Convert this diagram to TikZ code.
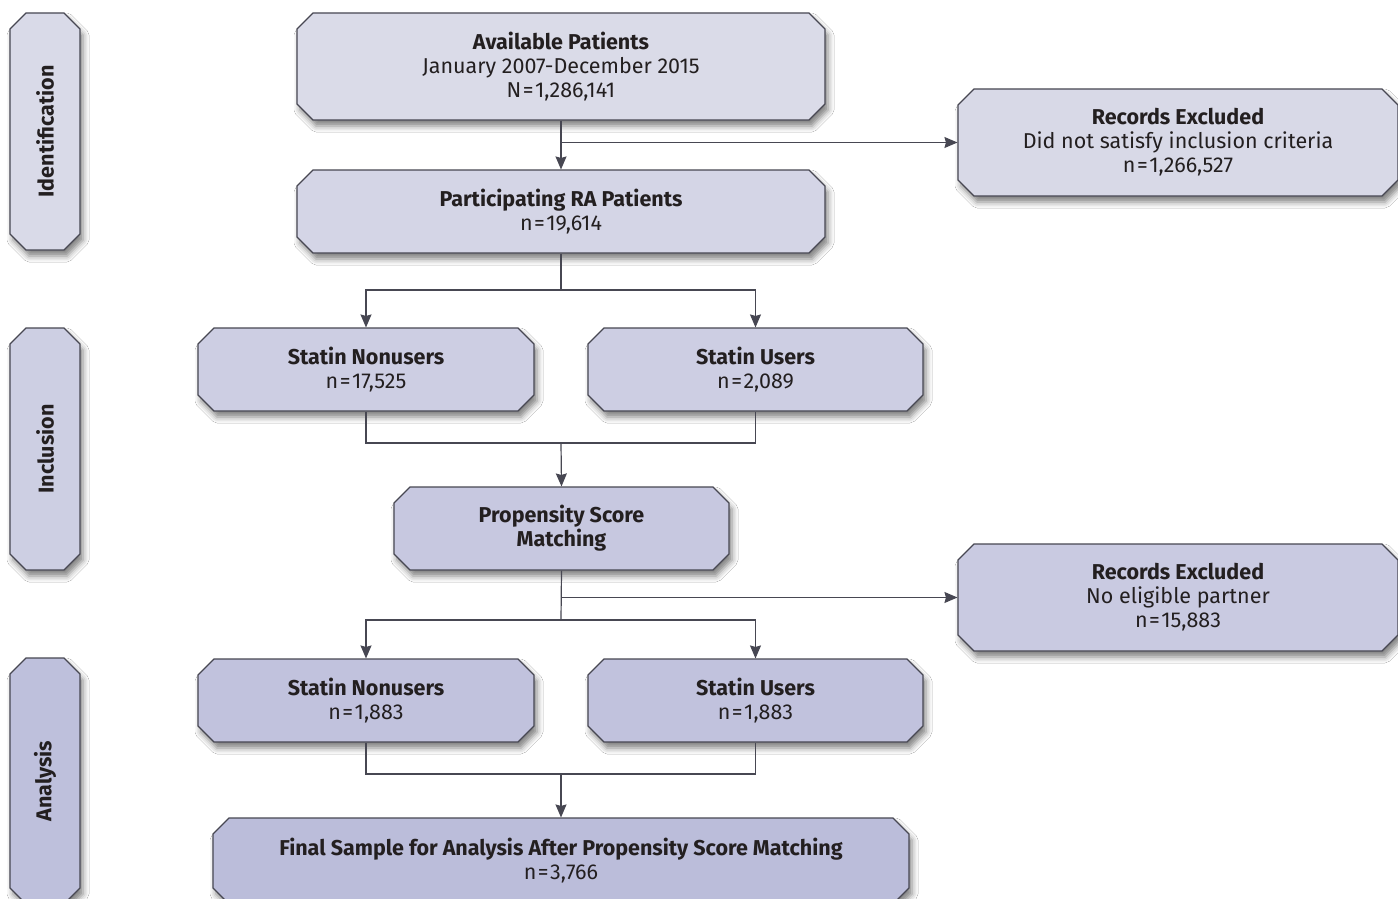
\documentclass[tikz,border=0pt]{standalone}
\usepackage{fontspec}
\setmainfont{Fira Sans}
\usetikzlibrary{shapes.misc,shadows.blur,arrows.meta}
\definecolor{linec}{HTML}{474752}
\definecolor{txtc}{HTML}{231F20}
\definecolor{cA}{HTML}{DADBE8}
\definecolor{cRA}{HTML}{D8D9E7}
\definecolor{cP}{HTML}{D4D5E6}
\definecolor{cS}{HTML}{CDCEE3}
\definecolor{cM}{HTML}{C7C8E0}
\definecolor{cRB}{HTML}{C9CAE1}
\definecolor{cT}{HTML}{C1C2DD}
\definecolor{cF}{HTML}{BBBDDA}
\definecolor{cId}{HTML}{D9DAE8}
\definecolor{cIn}{HTML}{CDCFE3}
\definecolor{cAn}{HTML}{BEC0DC}
\newcommand{\eqs}{\kern1.5pt=\kern1.5pt}
\tikzset{
  flowbox/.style={chamfered rectangle, chamfered rectangle xsep=8pt, chamfered rectangle ysep=8pt,
    draw=linec, line width=1.1pt, inner sep=0pt, align=center, text=txtc,
    font=\fontsize{21.5}{24}\selectfont,
    blur shadow={shadow xshift=3pt, shadow yshift=-6pt, shadow blur radius=6pt, shadow opacity=50}},
  sidebox/.style={flowbox, minimum width=70pt},
  conn/.style={draw=linec, line width=1.2pt},
  arr/.style={conn, -{Stealth[length=13pt,width=11pt,inset=1.5pt]}}
}
\begin{document}
\begin{tikzpicture}[x=1pt,y=-1pt]
\clip (0,0) rectangle (1398,899);
\fill[white] (0,0) rectangle (1398,899);
% side labels
\node[sidebox, fill=cId, minimum height=237pt] (ident) at (45,131.5) {\rotatebox{90}{\textbf{Identification}}};
\node[sidebox, fill=cIn, minimum height=242pt] (incl) at (45,449) {\rotatebox{90}{\textbf{Inclusion}}};
\node[sidebox, fill=cAn, minimum height=246pt] (anal) at (45,781) {\rotatebox{90}{\textbf{Analysis}}};
% boxes
\node[flowbox, fill=cA, minimum width=528pt, minimum height=107pt] (avail) at (561,66.5)
  {\textbf{Available Patients}\\January 2007-December 2015\\N\eqs 1,286,141};
\node[flowbox, fill=cRA, minimum width=440pt, minimum height=107pt] (exc1) at (1178,142.5)
  {\textbf{Records Excluded}\\Did not satisfy inclusion criteria\\n\eqs 1,266,527};
\node[flowbox, fill=cP, minimum width=528pt, minimum height=83pt] (part) at (561,211.5)
  {\textbf{Participating RA Patients}\\n\eqs 19,614};
\node[flowbox, fill=cS, minimum width=336pt, minimum height=83pt] (non1) at (366,369.5)
  {\textbf{Statin Nonusers}\\n\eqs 17,525};
\node[flowbox, fill=cS, minimum width=335pt, minimum height=83pt] (use1) at (755.5,369.5)
  {\textbf{Statin Users}\\n\eqs 2,089};
\node[flowbox, fill=cM, minimum width=335pt, minimum height=83pt] (prop) at (561.5,528.5)
  {\textbf{Propensity Score}\\\textbf{Matching}};
\node[flowbox, fill=cRB, minimum width=440pt, minimum height=107pt] (exc2) at (1178,597.5)
  {\textbf{Records Excluded}\\No eligible partner\\n\eqs 15,883};
\node[flowbox, fill=cT, minimum width=336pt, minimum height=83pt] (non2) at (366,700.5)
  {\textbf{Statin Nonusers}\\n\eqs 1,883};
\node[flowbox, fill=cT, minimum width=335pt, minimum height=83pt] (use2) at (755.5,700.5)
  {\textbf{Statin Users}\\n\eqs 1,883};
\node[flowbox, fill=cF, minimum width=696pt, minimum height=86pt] (final) at (561,861)
  {\textbf{Final Sample for Analysis After Propensity Score Matching}\\n\eqs 3,766};
% connectors
\coordinate (j1) at (avail.south |- exc1.west);
\draw[arr] (avail.south) -- (part.north);
\draw[arr] (j1) -- (exc1.west);
\coordinate (j2) at (561,290);
\draw[conn] (part.south) -- (j2);
\draw[arr] (j2) -| (non1.north);
\draw[arr] (j2) -| (use1.north);
\coordinate (j3) at (561,443);
\draw[conn] (non1.south) |- (j3) -| (use1.south);
\draw[arr] (j3) -- (prop.north);
\coordinate (j4) at (561,620);
\coordinate (j5) at (prop.south |- exc2.west);
\draw[conn] (prop.south) -- (j4);
\draw[arr] (j5) -- (exc2.west);
\draw[arr] (j4) -| (non2.north);
\draw[arr] (j4) -| (use2.north);
\coordinate (j6) at (561,774);
\draw[conn] (non2.south) |- (j6) -| (use2.south);
\draw[arr] (j6) -- (final.north);
\end{tikzpicture}
\end{document}
